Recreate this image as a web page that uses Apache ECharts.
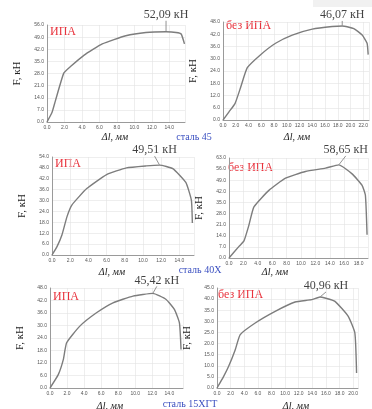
<!DOCTYPE html>
<html>
<head>
<meta charset="utf-8">
<script src="https://cdn.jsdelivr.net/npm/echarts@6/dist/echarts.min.js"></script>
<style>
  html, body { margin: 0; padding: 0; background: #fff; }
  #chart { width: 372px; height: 409px; }
</style>
</head>
<body>
<div id="chart"></div>
<script>
// сталь 45, ИПА
const xA = [0, 0.58, 0.96, 1.92, 2.69, 4.22, 6.33, 9.02, 11.32, 13.63, 14.78, 15.36, 15.74];
const yA = [0, 5.6, 12.2, 28.2, 32.0, 38.5, 45.1, 49.8, 51.7, 52.09, 51.7, 50.8, 45.1];
// сталь 45, без ИПА
const xB = [0, 0.94, 1.88, 2.77, 3.81, 5.9, 8.25, 10.86, 14.0, 17.13, 18.7, 20.52, 21.83, 22.6, 22.77];
const yB = [0, 4.0, 8.0, 16.0, 25.6, 32.0, 37.6, 41.6, 44.5, 45.8, 46.07, 44.8, 41.6, 37.6, 32.0];
// сталь 40Х, ИПА
const xC = [0, 0.55, 1.09, 1.64, 2.18, 3.82, 6.0, 8.18, 10.36, 11.82, 13.27, 14.7, 15.31, 15.42];
const yC = [0, 4.6, 11.0, 21.0, 27.5, 36.6, 44.3, 48.0, 49.1, 49.51, 47.6, 40.0, 30.2, 17.6];
// сталь 40Х, без ИПА
const xD = [0, 1.39, 2.08, 2.77, 3.46, 5.54, 7.85, 10.62, 13.4, 15.24, 17.09, 18.48, 18.94, 19.17];
const yD = [0, 7.3, 10.8, 20.8, 32.2, 42.6, 50.3, 54.5, 56.6, 58.65, 53.0, 45.8, 39.5, 14.6];
// сталь 15ХГТ, ИПА
const xE = [0, 0.97, 1.56, 1.95, 3.5, 5.45, 7.39, 9.73, 12.06, 13.62, 14.59, 15.18, 15.37];
const yE = [0, 6.4, 13.6, 21.7, 29.7, 36.1, 40.9, 44.1, 45.42, 42.5, 37.7, 31.3, 18.5];
// сталь 15ХГТ, без ИПА
const xF = [0, 0.98, 1.71, 2.68, 3.41, 5.61, 8.54, 11.46, 13.9, 15.12, 15.85, 17.32, 19.27, 20.24, 20.49];
const yF = [0, 5.25, 9.75, 17.25, 24.0, 29.25, 34.5, 38.7, 39.75, 40.96, 40.5, 39.0, 32.25, 24.75, 6.75];

// axis ranges
const xMaxes = [15.8, 22.9, 15.6, 19.3, 15.6, 20.7];
const yMaxes = [56, 48, 54, 63, 48, 45];
const yIntervals = [7, 6, 6, 7, 6, 5];

const panels = [
  { x: xA, y: yA, grid: [47, 25, 138, 97],  tag: 'ИПА',     tagPos: [50, 26],   lblOff: [0, -17] },
  { x: xB, y: yB, grid: [223, 22, 146, 98], tag: 'без ИПА', tagPos: [226, 20],  lblOff: [0, -11] },
  { x: xC, y: yC, grid: [52, 157, 142, 98], tag: 'ИПА',     tagPos: [55, 158],  lblOff: [-5, -15] },
  { x: xD, y: yD, grid: [229, 158, 139, 100], tag: 'без ИПА', tagPos: [228, 162], lblOff: [7, -15] },
  { x: xE, y: yE, grid: [50, 288, 133, 100], tag: 'ИПА',     tagPos: [53, 291],  lblOff: [4, -13] },
  { x: xF, y: yF, grid: [217, 288, 141, 100], tag: 'без ИПА', tagPos: [218, 289], lblOff: [6, -11] }
];

const xNames = [[115, 137], [297, 137], [112, 272], [275, 272], [110, 406], [296, 406]];
const steels = [['сталь 45', 194, 137], ['сталь 40Х', 200, 270], ['сталь 15ХГТ', 190, 404]];

const myChart = echarts.init(document.getElementById('chart'));

const grids = [], xAxes = [], yAxes = [], series = [], graphics = [];

graphics.push({ type: 'rect', shape: { x: 313, y: 0, width: 59, height: 7 }, style: { fill: '#f1f1f1' } });

panels.forEach((p, i) => {
  grids.push({ left: p.grid[0], top: p.grid[1], width: p.grid[2], height: p.grid[3] });
  xAxes.push({
    type: 'value', gridIndex: i, min: 0, max: xMaxes[i], interval: 2,
    axisLine: { lineStyle: { color: '#9a9a9a' } },
    axisTick: { show: false },
    axisLabel: { fontSize: 5, color: '#555', margin: 3, showMaxLabel: false,
      formatter: v => v.toFixed(1) },
    splitLine: { show: true, lineStyle: { color: '#e3e3e3', width: 0.6 } }
  });
  yAxes.push({
    type: 'value', gridIndex: i, min: 0, max: yMaxes[i], interval: yIntervals[i],
    name: 'F, кН', nameLocation: 'middle', nameGap: 24, nameRotate: 90,
    nameTextStyle: { fontFamily: 'Liberation Serif', fontSize: 11, color: '#222' },
    axisLine: { show: true, lineStyle: { color: '#9a9a9a' } },
    axisTick: { show: false },
    axisLabel: { fontSize: 5, color: '#555', margin: 3, formatter: v => v.toFixed(1) },
    splitLine: { show: true, lineStyle: { color: '#e3e3e3', width: 0.6 } }
  });
  series.push({
    type: 'line', xAxisIndex: i, yAxisIndex: i, symbol: 'none', smooth: 0.15,
    lineStyle: { color: '#7d7d7d', width: 1.4 },
    data: p.x.map((v, k) => [v, p.y[k]])
  });
  // peak with its caption and leader line
  const peak = p.y.indexOf(Math.max(...p.y));
  series.push({
    type: 'scatter', xAxisIndex: i, yAxisIndex: i, symbolSize: 1,
    itemStyle: { color: 'rgba(0,0,0,0)' },
    data: [[p.x[peak], p.y[peak]]],
    label: {
      show: true, position: 'inside', color: '#111',
      fontFamily: 'Liberation Serif', fontSize: 12,
      formatter: p.y[peak].toFixed(2).replace('.', ',') + ' кН'
    },
    labelLayout: { dx: p.lblOff[0], dy: p.lblOff[1] },
    labelLine: { show: true, lineStyle: { color: '#777', width: 0.8 } }
  });
  graphics.push({
    type: 'text', left: p.tagPos[0], top: p.tagPos[1],
    style: { text: p.tag, fill: '#e8323c', font: '12px "Liberation Serif"' }
  });
  graphics.push({
    type: 'text', x: xNames[i][0], y: xNames[i][1],
    style: { text: 'Δl, мм', fill: '#222', font: 'italic 10px "Liberation Serif"',
      textAlign: 'center', textVerticalAlign: 'middle' }
  });
});

steels.forEach(s => {
  graphics.push({
    type: 'text', x: s[1], y: s[2],
    style: { text: s[0], fill: '#3a4fc0', font: '10px "Liberation Serif"',
      textAlign: 'center', textVerticalAlign: 'middle' }
  });
});

const option = {
  animation: false,
  grid: grids,
  xAxis: xAxes,
  yAxis: yAxes,
  series: series,
  graphic: graphics
};
myChart.setOption(option);
</script>
</body>
</html>
